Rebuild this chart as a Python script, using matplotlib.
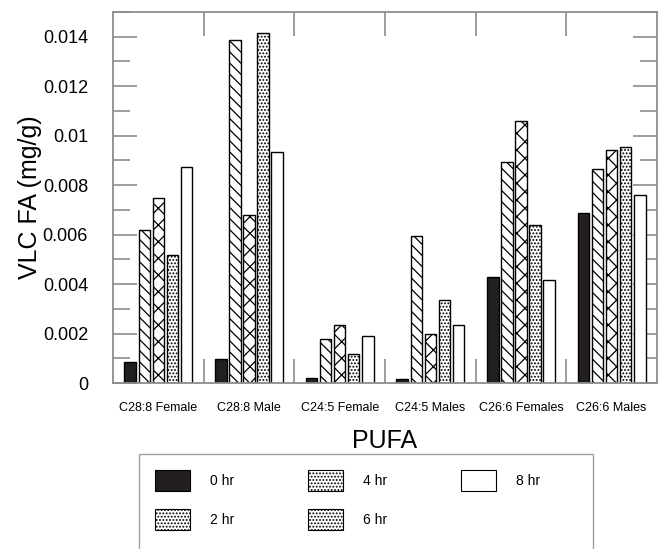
import matplotlib
matplotlib.use("Agg")
import matplotlib.pyplot as plt
import numpy as np
from matplotlib.patches import Patch, Rectangle
from matplotlib.ticker import FuncFormatter, MultipleLocator, FixedLocator

plt.rcParams['font.family'] = ['Liberation Sans', 'DejaVu Sans']
plt.rcParams['hatch.linewidth'] = 0.9

categories = ["C28:8 Female", "C28:8 Male", "C24:5 Female", "C24:5 Males",
              "C26:6 Females", "C26:6 Males"]
series_names = ["0 hr", "2 hr", "4 hr", "6 hr", "8 hr"]
hr0 = [0.00083, 0.00098, 0.00021, 0.00016, 0.00430, 0.00687]
hr2 = [0.00619, 0.01387, 0.00176, 0.00596, 0.00892, 0.00867]
hr4 = [0.00746, 0.00679, 0.00233, 0.00198, 0.01060, 0.00943]
hr6 = [0.00516, 0.01415, 0.00116, 0.00334, 0.00640, 0.00956]
hr8 = [0.00874, 0.00932, 0.00192, 0.00234, 0.00418, 0.00761]
series = [hr0, hr2, hr4, hr6, hr8]

faces = ['#231f20', 'white', 'white', 'white', 'white']
hatches = [None, '\\\\\\', 'xx', '.....', None]

fig = plt.figure(figsize=(6.66, 5.49), dpi=100)
ax = fig.add_axes([113/666, 1-383/549, 544/666, 371/549])

x = np.arange(len(categories))
w = 0.127
step = 0.155
for k, (vals, fc, h) in enumerate(zip(series, faces, hatches)):
    ax.bar(x + (k-2)*step, vals, width=w, color=fc, edgecolor='black',
           hatch=h, linewidth=1.0, zorder=2)

grey = '#8c8c8c'
ax.set_xlim(-0.5, 5.5)
ax.set_ylim(0, 0.015)
for s in ax.spines.values():
    s.set_color(grey)
    s.set_linewidth(1.3)

ax.yaxis.set_major_locator(FixedLocator(np.arange(0, 0.0141, 0.002)))
ax.yaxis.set_minor_locator(MultipleLocator(0.001))
ax.yaxis.set_major_formatter(FuncFormatter(lambda v, p: '0' if abs(v) < 1e-12 else '%g' % round(v, 4)))
ax.tick_params(axis='y', which='major', direction='in', length=17, width=1.2,
               color=grey, left=True, right=True, labelsize=13, pad=18)
ax.tick_params(axis='y', which='minor', direction='in', length=12, width=1.2,
               color=grey, left=True, right=True)

ax.xaxis.set_major_locator(FixedLocator(np.arange(0.5, 5.0, 1.0)))
ax.xaxis.set_major_formatter(FuncFormatter(lambda v, p: ''))
ax.xaxis.set_minor_locator(FixedLocator(x))
ax.set_xticklabels(categories, minor=True)
ax.tick_params(axis='x', which='major', direction='in', length=17, width=1.2,
               color=grey, top=True, bottom=True)
ax.tick_params(axis='x', which='minor', length=0, labelsize=9, pad=14)

ax.set_ylabel('VLC FA (mg/g)', fontsize=18)
ax.yaxis.set_label_coords(-0.13, 0.5)
ax.set_xlabel('PUFA', fontsize=18)
ax.xaxis.set_label_coords(0.5, -0.123)

# legend
leg_faces = ['#231f20', 'white', 'white', 'white', 'white']
leg_hatch = [None, '.....', '.....', '.....', None]
handles = [Patch(facecolor=f, edgecolor='black', hatch=h, linewidth=0.8, label=n)
           for f, h, n in zip(leg_faces, leg_hatch, series_names)]
leg = fig.legend(handles=handles, ncol=3, loc='upper left',
                 bbox_to_anchor=(155/666, 1-470/549), frameon=False,
                 fontsize=10, handlelength=2.52, handleheight=1.94,
                 handletextpad=1.44, labelspacing=1.3, columnspacing=5.3,
                 borderpad=0, borderaxespad=0)
fig.patches.append(Rectangle((139/666, -0.1), 454/666, 0.1 + (1-454/549),
                             transform=fig.transFigure, facecolor='none',
                             edgecolor='#a0a0a0', linewidth=1.0))

fig.savefig('out.png', dpi=100)
